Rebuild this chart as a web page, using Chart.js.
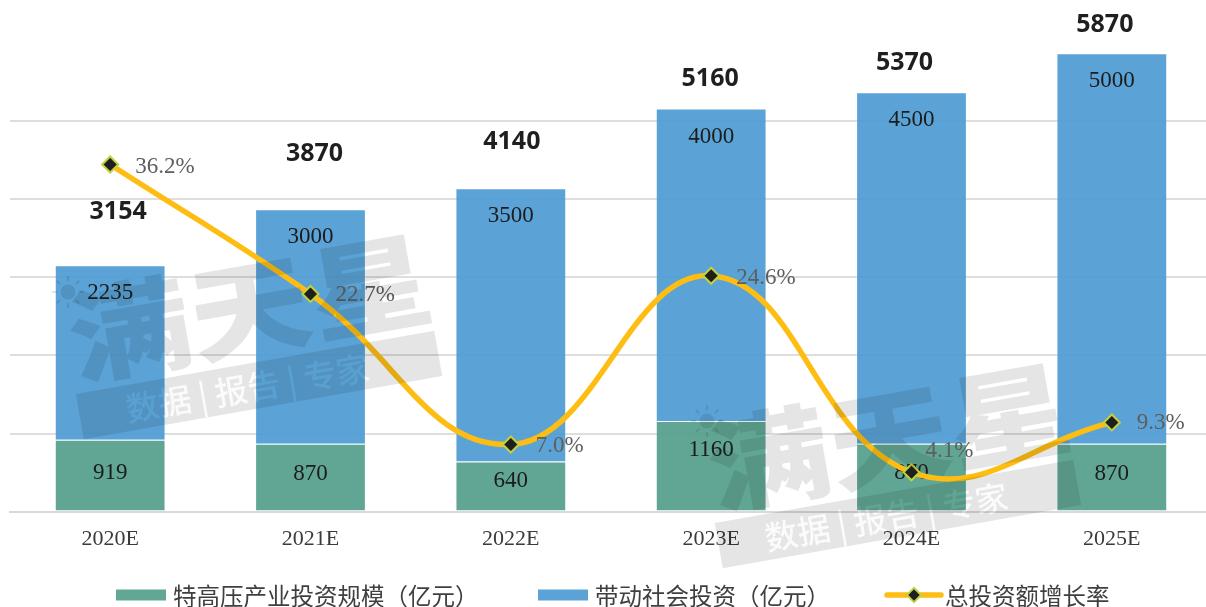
<!DOCTYPE html>
<html><head><meta charset="utf-8">
<style>html,body{margin:0;padding:0;background:#fff;overflow:hidden;width:1206px;height:607px}canvas{display:block}</style>
<script src="https://cdn.jsdelivr.net/npm/chart.js@4"></script>
</head><body>
<canvas id="c" width="1228" height="607"></canvas>
<script>
const categories = ['2020E','2021E','2022E','2023E','2024E','2025E'];
const uhvInvestment = [919,870,640,1160,870,870];
const drivenInvestment = [2235,3000,3500,4000,4500,5000];
const totalInvestment = [3154,3870,4140,5160,5370,5870];
const growthRate = [36.2,22.7,7.0,24.6,4.1,9.3];
const seriesNames = ['特高压产业投资规模（亿元）','带动社会投资（亿元）','总投资额增长率'];
const watermarkTitle = '满天星';
const watermarkTag = '数据 | 报告 | 专家';

const SERIF = '"Liberation Serif","Noto Sans CJK SC",serif';
const CJK = '"Noto Sans CJK SC",sans-serif';
const LINE_COLOR = '#FDBD12', MARK_FILL = '#1f1f1f', MARK_EDGE = '#C5D13C';

const layoutTweaks = {
  greenY:[33,30,19,29,29,30],
  totalDx:[8,4,1,-1,-7,-7], totalDy:[-53,-55,-46,-30,-29,-28],
  rateX:[25,25,25,25,14,25], rateDy:[2,1,1,2,-21,1],
  legendKeys:[116,538,885], legendText:[173,595,945], legendY:596
};

function watermarkCanvas(){
  const w=document.createElement('canvas'); w.width=420; w.height=240;
  const g=w.getContext('2d');
  const X=x=>x-40, Y=y=>y-225;
  g.fillStyle='rgba(0,0,0,0.1)';
  g.save(); g.translate(X(250),Y(308)); g.rotate(-10*Math.PI/180); g.scale(1,0.85);
  g.font='900 122px '+CJK; g.textAlign='center'; g.textBaseline='middle';
  g.fillText(watermarkTitle,0,0); g.restore();
  g.save(); g.translate(X(259),Y(385)); g.rotate(-10*Math.PI/180);
  g.fillRect(-182,-23,364,46);
  g.globalCompositeOperation='destination-out';
  g.font='500 33px '+CJK; g.textAlign='center'; g.textBaseline='middle';
  g.fillStyle='rgba(0,0,0,.85)';
  g.fillText(watermarkTag,-12,1); g.restore();
  g.fillStyle='rgba(0,0,0,0.1)'; g.strokeStyle='rgba(0,0,0,0.1)'; g.lineWidth=2;
  g.beginPath(); g.arc(X(68),Y(292),7.5,0,Math.PI*2); g.fill();
  for(let i=0;i<8;i++){const a=i*Math.PI/4; g.beginPath();
    g.moveTo(X(68)+11*Math.cos(a),Y(292)+11*Math.sin(a));
    g.lineTo(X(68)+16*Math.cos(a),Y(292)+16*Math.sin(a)); g.stroke();}
  return w;
}

const labels = {
  id:'labels',
  beforeDatasetDraw(chart,args){
    if(args.index!==2) return;
    const ctx=chart.ctx, m0=chart.getDatasetMeta(0), m1=chart.getDatasetMeta(1);
    ctx.save(); ctx.textAlign='center'; ctx.textBaseline='middle';
    ctx.font='23px '+SERIF; ctx.fillStyle='#1c1c1c';
    categories.forEach((_,i)=>{
      ctx.fillText(uhvInvestment[i],m0.data[i].x,m0.data[i].y+layoutTweaks.greenY[i]);
      ctx.fillText(drivenInvestment[i],m1.data[i].x,m1.data[i].y+28);
    });
    ctx.restore();
  },
  afterDatasetsDraw(chart){
    const ctx=chart.ctx, m1=chart.getDatasetMeta(1), m2=chart.getDatasetMeta(2), y=chart.scales.y;
    ctx.save(); ctx.textBaseline='middle';
    ctx.textAlign='center'; ctx.font='700 25px "Noto Sans",sans-serif'; ctx.fillStyle='#1f1f1f';
    categories.forEach((_,i)=>{
      ctx.fillText(totalInvestment[i],m1.data[i].x+layoutTweaks.totalDx[i],y.getPixelForValue(totalInvestment[i])+layoutTweaks.totalDy[i]);
    });
    ctx.textAlign='left'; ctx.font='23px '+SERIF; ctx.fillStyle='#5e5e5e';
    categories.forEach((_,i)=>{
      const p=m2.data[i];
      ctx.fillText(growthRate[i].toFixed(1)+'%',p.x+layoutTweaks.rateX[i],p.y+layoutTweaks.rateDy[i]);
    });
    ctx.restore();
  },
  afterDraw(chart){
    const ctx=chart.ctx, t=layoutTweaks, cy=t.legendY-1;
    ctx.save();
    ctx.font='23.5px '+CJK; ctx.fillStyle='#3f3f3f'; ctx.textBaseline='middle'; ctx.textAlign='left';
    seriesNames.forEach((s,i)=>ctx.fillText(s,t.legendText[i],t.legendY));
    [0,1].forEach(i=>{ ctx.fillStyle=chart.data.datasets[i].legendColor; ctx.fillRect(t.legendKeys[i],cy-5.5,50,11); });
    const l=t.legendKeys[2];
    ctx.strokeStyle=LINE_COLOR; ctx.lineWidth=5.5; ctx.lineCap='round';
    ctx.beginPath(); ctx.moveTo(l+2,cy); ctx.lineTo(l+56,cy); ctx.stroke();
    ctx.translate(l+29,cy); ctx.rotate(Math.PI/4);
    ctx.fillStyle=MARK_FILL; ctx.strokeStyle=MARK_EDGE; ctx.lineWidth=2;
    ctx.fillRect(-5,-5,10,10); ctx.strokeRect(-5,-5,10,10);
    ctx.restore();
    const w=watermarkCanvas();
    ctx.drawImage(w,40,225); ctx.drawImage(w,40+639,225+129);
  }
};

new Chart(document.getElementById('c'),{
  data:{labels:categories,datasets:[
    {type:'bar',label:seriesNames[0],data:uhvInvestment,legendColor:'#62A695',backgroundColor:'rgba(84,158,140,0.92)',borderColor:'rgba(255,255,255,0.18)',borderWidth:1,stack:'s',order:2,barPercentage:0.553,categoryPercentage:1,yAxisID:'y'},
    {type:'bar',label:seriesNames[1],data:drivenInvestment,legendColor:'#5BA3D6',backgroundColor:'rgba(77,155,210,0.92)',borderColor:'rgba(255,255,255,0.18)',borderWidth:1,stack:'s',order:2,barPercentage:0.553,categoryPercentage:1,yAxisID:'y'},
    {type:'line',label:seriesNames[2],data:growthRate,borderColor:LINE_COLOR,borderWidth:5.5,tension:0.42,fill:false,order:1,yAxisID:'y1',
     pointStyle:'rectRot',pointRadius:8,pointBackgroundColor:MARK_FILL,pointBorderColor:MARK_EDGE,pointBorderWidth:2,clip:false}
  ]},
  options:{
    responsive:false,animation:false,
    layout:{padding:{left:6,right:16,top:43,bottom:49}},
    scales:{
      x:{stacked:true,offset:true,grid:{display:false},border:{color:'#d9d9d9',width:2},
         ticks:{color:'#3a3a3a',font:{family:SERIF,size:22},padding:6,maxRotation:0}},
      y:{stacked:true,min:0,max:6000,display:true,
         ticks:{display:false,stepSize:1000},border:{display:false},
         grid:{drawTicks:false,lineWidth:2,color:c=>c.tick.value>=6000?'transparent':'#dedede'}},
      y1:{display:false,min:0,max:48.87}
    },
    plugins:{tooltip:{enabled:false},legend:{display:false}}
  },
  plugins:[labels]
});
</script>
</body></html>
